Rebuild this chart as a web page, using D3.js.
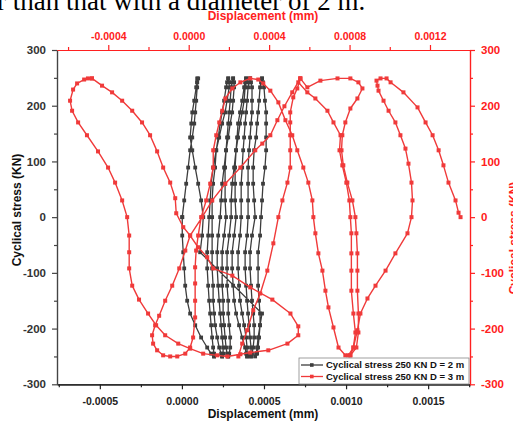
<!DOCTYPE html>
<html>
<head>
<meta charset="utf-8">
<script src="https://cdn.jsdelivr.net/npm/d3@7"></script>
<style>
  body { margin: 0; background: #fff; }
  svg { display: block; font-family: "Liberation Sans", Arial, sans-serif; }
</style>
</head>
<body>
<svg id="chart" width="513" height="424"></svg>
<script>
// ---- data ---------------------------------------------------------------
// Stress levels (KN) sampled along every D = 2 m loading branch, top to bottom
const stressLevels = [249, 242, 233, 209, 188, 168, 143, 120, 89, 60, 30, 0,
  -33, -63, -92, -123, -150, -173, -194, -216, -234, -245, -250];

// D = 2 m : displacement (mm) of each branch at the stress levels above
const d2Q  = [0.93e-4, 0.93e-4, 0.93e-4, 0.87e-4, 0.81e-4, 0.75e-4, 0.63e-4, 0.50e-4, 0.38e-4, 0.26e-4, 0.14e-4, 0.02e-4,
  0.02e-4, 0.08e-4, 0.14e-4, 0.20e-4, 0.32e-4, 0.50e-4, 0.81e-4, 1.17e-4, 1.54e-4, 1.78e-4, 1.96e-4];
const d2P  = [0.99e-4, 0.93e-4, 0.87e-4, 0.75e-4, 0.63e-4, 0.57e-4, 0.50e-4, 0.63e-4, 0.81e-4, 0.99e-4, 1.17e-4, 1.30e-4,
  1.23e-4, 1.11e-4];
const d2Tail = [[4.88e-4, -173], [4.76e-4, -194], [4.64e-4, -216], [4.58e-4, -234], [4.52e-4, -245]];
const d2Z1 = [4.88e-4, 4.94e-4, 5.00e-4, 5.06e-4, 5.13e-4, 5.13e-4, 5.13e-4, 5.13e-4, 5.06e-4, 4.94e-4, 4.88e-4, 4.82e-4,
  4.76e-4, 4.64e-4, 4.64e-4, 4.64e-4, 4.70e-4, 4.76e-4, 4.76e-4, 4.70e-4, 4.64e-4, 4.58e-4, 4.46e-4];
const d2Z2 = [4.88e-4, 4.82e-4, 4.76e-4, 4.70e-4, 4.64e-4, 4.58e-4, 4.52e-4, 4.40e-4, 4.34e-4, 4.34e-4, 4.40e-4, 4.46e-4,
  4.27e-4, 4.15e-4, 4.15e-4, 4.21e-4, 4.27e-4, 4.34e-4, 4.40e-4, 4.40e-4, 4.34e-4, 4.27e-4, 4.21e-4];
const d2Z3 = [4.15e-4, 4.21e-4, 4.27e-4, 4.27e-4, 4.27e-4, 4.21e-4, 4.15e-4, 4.09e-4, 4.03e-4, 4.03e-4, 4.03e-4, 4.03e-4,
  3.97e-4, 3.85e-4, 3.85e-4, 3.91e-4, 3.97e-4, 4.03e-4, 4.09e-4, 4.15e-4, 4.21e-4, 4.21e-4, 4.21e-4];
const d2Z4 = [4.15e-4, 4.09e-4, 4.03e-4, 3.97e-4, 3.91e-4, 3.85e-4, 3.79e-4, 3.73e-4, 3.67e-4, 3.61e-4, 3.61e-4, 3.61e-4,
  3.54e-4, 3.42e-4, 3.42e-4, 3.48e-4, 3.54e-4, 3.67e-4, 3.79e-4, 3.91e-4, 3.97e-4, 3.97e-4, 3.97e-4];
const d2Z5 = [3.91e-4, 3.91e-4, 3.85e-4, 3.79e-4, 3.67e-4, 3.54e-4, 3.42e-4, 3.30e-4, 3.24e-4, 3.24e-4, 3.24e-4, 3.30e-4,
  3.18e-4, 3.06e-4, 3.06e-4, 3.12e-4, 3.18e-4, 3.30e-4, 3.48e-4, 3.67e-4, 3.85e-4, 3.91e-4, 3.97e-4];
const d2Z6 = [3.91e-4, 3.85e-4, 3.79e-4, 3.67e-4, 3.54e-4, 3.42e-4, 3.36e-4, 3.30e-4, 3.18e-4, 3.06e-4, 3.00e-4, 3.00e-4,
  2.88e-4, 2.75e-4, 2.75e-4, 2.75e-4, 2.82e-4, 2.82e-4, 2.88e-4, 2.94e-4, 2.94e-4, 2.88e-4, 2.82e-4];
const d2Z7 = [3.12e-4, 3.06e-4, 3.00e-4, 2.94e-4, 2.88e-4, 2.82e-4, 2.75e-4, 2.69e-4, 2.63e-4, 2.63e-4, 2.63e-4, 2.69e-4,
  2.57e-4, 2.45e-4, 2.45e-4, 2.45e-4, 2.51e-4, 2.51e-4, 2.57e-4, 2.63e-4, 2.69e-4, 2.75e-4, 2.82e-4];
const d2Z8 = [3.12e-4, 3.18e-4, 3.18e-4, 3.12e-4, 3.06e-4, 2.94e-4, 2.82e-4, 2.69e-4, 2.57e-4, 2.45e-4, 2.39e-4, 2.33e-4,
  2.21e-4, 2.15e-4, 2.15e-4, 2.21e-4, 2.27e-4, 2.33e-4, 2.39e-4, 2.45e-4, 2.51e-4, 2.51e-4, 2.45e-4];
const d2Z9 = [2.82e-4, 2.75e-4, 2.69e-4, 2.57e-4, 2.45e-4, 2.33e-4, 2.21e-4, 2.09e-4, 2.02e-4, 1.90e-4, 1.84e-4, 1.84e-4,
  1.84e-4, 1.84e-4, 1.84e-4, 1.90e-4, 1.90e-4, 1.96e-4, 2.02e-4, 2.15e-4, 2.27e-4, 2.39e-4, 2.45e-4];
const d2Z10 = [2.82e-4, 2.88e-4, 2.88e-4, 2.75e-4, 2.63e-4, 2.45e-4, 2.27e-4, 2.09e-4, 1.90e-4, 1.78e-4, 1.72e-4, 1.66e-4,
  1.60e-4, 1.54e-4, 1.54e-4, 1.60e-4, 1.66e-4, 1.72e-4, 1.78e-4, 1.84e-4, 1.90e-4, 1.96e-4, 1.96e-4];

// D = 3 m : [displacement (mm), stress (KN)] loops and branches
const d3LoopA = [[-4.81e-4, 249], [-5.01e-4, 249], [-5.20e-4, 247], [-5.55e-4, 240], [-5.75e-4, 229], [-5.90e-4, 209],
  [-5.80e-4, 191], [-5.50e-4, 170], [-5.06e-4, 147], [-4.51e-4, 118], [-4.01e-4, 89], [-3.66e-4, 62], [-3.31e-4, 30],
  [-3.06e-4, 0], [-2.96e-4, -33], [-2.96e-4, -63], [-2.96e-4, -92], [-2.81e-4, -123], [-2.47e-4, -148], [-2.02e-4, -173],
  [-1.62e-4, -194], [-1.17e-4, -212], [-0.52e-4, -227], [0.07e-4, -236], [0.72e-4, -245], [1.42e-4, -248], [1.92e-4, -250],
  [2.57e-4, -246], [3.06e-4, -243], [3.96e-4, -239], [4.91e-4, -227], [5.45e-4, -212], [5.45e-4, -196], [5.06e-4, -173],
  [4.16e-4, -148], [3.06e-4, -126], [2.17e-4, -105], [1.22e-4, -92], [0.92e-4, -72], [0.47e-4, -54], [0.07e-4, -33],
  [-0.27e-4, -18], [-0.62e-4, 7], [-0.67e-4, 34], [-0.92e-4, 62], [-1.27e-4, 89], [-1.57e-4, 118], [-1.92e-4, 147],
  [-2.32e-4, 170], [-2.81e-4, 191], [-3.31e-4, 209], [-3.81e-4, 224], [-4.31e-4, 236], [-4.81e-4, 249]];
const d3LoopB = [[8.04e-4, -248], [8.19e-4, -234], [8.29e-4, -207], [8.19e-4, -173], [8.09e-4, -132], [8.09e-4, -96],
  [8.09e-4, -65], [8.09e-4, -29], [8.04e-4, 0], [7.99e-4, 30], [7.84e-4, 62], [7.64e-4, 93], [7.50e-4, 120], [7.55e-4, 147],
  [7.20e-4, 170], [6.90e-4, 191], [6.30e-4, 213], [5.90e-4, 224], [5.45e-4, 242], [5.55e-4, 249],
  [5.15e-4, 224], [4.76e-4, 199], [4.41e-4, 174], [4.06e-4, 147], [3.66e-4, 132], [3.31e-4, 120], [2.57e-4, 89],
  [1.82e-4, 60], [1.17e-4, 30], [0.67e-4, 0], [0.07e-4, -33], [-0.17e-4, -60], [-0.47e-4, -92], [-0.82e-4, -123],
  [-1.17e-4, -150], [-1.47e-4, -177], [-1.67e-4, -194], [-1.82e-4, -212], [-1.77e-4, -227], [-1.57e-4, -239],
  [-1.27e-4, -248], [-0.92e-4, -250], [-0.57e-4, -250], [-0.17e-4, -245], [0.07e-4, -234], [0.22e-4, -216],
  [0.32e-4, -180], [0.32e-4, -150], [0.32e-4, -119], [0.32e-4, -90], [0.37e-4, -60], [0.47e-4, -33], [0.62e-4, 0],
  [0.87e-4, 30], [1.07e-4, 60], [1.22e-4, 89], [1.22e-4, 120], [1.37e-4, 147], [1.52e-4, 170], [1.67e-4, 191],
  [1.82e-4, 213], [2.17e-4, 231], [2.57e-4, 242], [3.06e-4, 249], [3.46e-4, 247], [3.71e-4, 240], [4.06e-4, 227],
  [4.46e-4, 206], [4.81e-4, 174], [5.15e-4, 147], [5.40e-4, 120], [5.70e-4, 89], [5.95e-4, 62], [6.15e-4, 30],
  [6.20e-4, 0], [6.30e-4, -29], [6.45e-4, -65], [6.65e-4, -96], [6.80e-4, -132], [6.95e-4, -162], [7.20e-4, -198],
  [7.45e-4, -234], [7.79e-4, -248]];
const d3LoopC = [[5.55e-4, 249], [5.90e-4, 233], [6.55e-4, 245], [7.40e-4, 249], [8.04e-4, 249], [8.44e-4, 242],
  [8.64e-4, 231], [8.39e-4, 213], [8.04e-4, 195], [7.79e-4, 170], [7.64e-4, 147], [7.60e-4, 120], [7.69e-4, 93],
  [7.89e-4, 62], [8.14e-4, 30], [8.29e-4, 0], [8.34e-4, -29], [8.39e-4, -65], [8.39e-4, -96], [8.39e-4, -132],
  [8.44e-4, -173], [8.44e-4, -207], [8.34e-4, -234], [8.04e-4, -248]];
const d3LoopD = [[7.94e-4, -248], [8.19e-4, -234], [8.39e-4, -203], [8.54e-4, -173], [8.89e-4, -146], [9.29e-4, -123],
  [9.79e-4, -96], [10.28e-4, -65], [10.88e-4, -29], [11.08e-4, 0], [11.13e-4, 30], [11.08e-4, 62], [10.93e-4, 96],
  [10.78e-4, 123], [10.53e-4, 147], [10.28e-4, 170], [9.94e-4, 191], [9.69e-4, 209], [9.44e-4, 227], [9.39e-4, 236],
  [9.34e-4, 245], [9.54e-4, 249], [9.84e-4, 249], [10.04e-4, 242], [10.68e-4, 224], [11.38e-4, 197], [11.78e-4, 170],
  [12.13e-4, 147], [12.43e-4, 120], [12.67e-4, 93], [12.92e-4, 62], [13.27e-4, 30], [13.42e-4, 8], [13.52e-4, 0]];
const d3BranchE = [[5.55e-4, 249], [5.40e-4, 231], [5.20e-4, 215], [5.05e-4, 188], [5.05e-4, 170], [5.05e-4, 147],
  [5.05e-4, 120], [5.05e-4, 89], [4.91e-4, 62], [4.66e-4, 30], [4.46e-4, 0], [4.21e-4, -47], [3.91e-4, -96],
  [3.56e-4, -137], [3.21e-4, -167], [2.91e-4, -203], [2.66e-4, -227], [2.47e-4, -250]];

// axis ticks
const bottomTicks = [-0.0005, 0, 0.0005, 0.001, 0.0015];
const bottomMinor = [-0.00075, -0.00025, 0.00025, 0.00075, 0.00125, 0.00175];
const topTicks = [-0.0004, 0, 0.0004, 0.0008, 0.0012];
const topMinor = [-0.0006, -0.0002, 0.0002, 0.0006, 0.001];
const stressTicks = [-300, -200, -100, 0, 100, 200, 300];
const stressMinor = [-250, -150, -50, 50, 150, 250];

const seriesNames = ["Cyclical stress 250 KN D = 2 m", "Cyclical stress 250 KN D = 3 m"];

// ---- assemble the D = 2 m path (branches walked in loading order) -------
function walk(disp, from, to) {
  const out = [], step = from <= to ? 1 : -1;
  for (let i = from; i !== to + step; i += step) out.push([disp[i], stressLevels[i]]);
  return out;
}
const d2Path = [].concat(
  walk(d2Q, 11, 0), walk(d2P, 0, 13), d2Tail,
  walk(d2Z1, 22, 0), walk(d2Z2, 0, 22), walk(d2Z3, 22, 0), walk(d2Z4, 0, 22),
  walk(d2Z5, 22, 0), walk(d2Z6, 0, 22), walk(d2Z7, 22, 0), walk(d2Z8, 0, 22),
  walk(d2Z9, 22, 0), walk(d2Z10, 0, 22), walk(d2Q, 22, 11)
);
const d3Loops = [d3LoopA, d3BranchE, d3LoopB, d3LoopC, d3LoopD];

// ---- layout & scales ----------------------------------------------------
const L = 57, R = 470, T = 50, B = 384.3;
const BLACK = "#3d3d3d", RED = "#f03a3a", AXRED = "#ff2020";

const xBottom = d3.scaleLinear().domain([-0.000761, 0.001755]).range([L, R]);
const xTop = d3.scaleLinear().domain([-0.000655, 0.001399]).range([L, R]);
const y = d3.scaleLinear().domain([-300, 300]).range([B, T]);

const svg = d3.select("#chart");

// sentence from the surrounding text, cut by the top edge
svg.append("text").attr("x", -3).attr("y", 10)
  .style("font-family", '"Liberation Serif", "Times New Roman", serif')
  .style("font-size", "27px").attr("fill", "#000")
  .text("r than that with a diameter of 2 m.");

// ---- axes ---------------------------------------------------------------
function styleAxis(g, color, size) {
  g.select(".domain").attr("stroke", color).attr("stroke-width", 1.2);
  g.selectAll(".tick line").attr("stroke", color).attr("stroke-width", 1.2);
  g.selectAll(".tick text").attr("fill", color)
    .style("font-size", size).style("font-weight", "bold")
    .style("font-family", '"Liberation Sans", Arial, sans-serif');
}
const fmtX = d => d.toFixed(4);
const fmtY = d => String(d);

// bottom (D = 2 m displacement)
svg.append("g").attr("transform", `translate(0,${B})`)
  .call(d3.axisBottom(xBottom).tickValues(bottomMinor).tickSize(3).tickSizeOuter(0).tickFormat(""))
  .call(g => styleAxis(g, "#222", "10.5px"));
svg.append("g").attr("transform", `translate(0,${B})`)
  .call(d3.axisBottom(xBottom).tickValues(bottomTicks).tickSize(5).tickPadding(8).tickSizeOuter(0).tickFormat(fmtX))
  .call(g => styleAxis(g, "#222", "10.5px"));

// left (stress)
svg.append("g").attr("transform", `translate(${L},0)`)
  .call(d3.axisLeft(y).tickValues(stressMinor).tickSize(3).tickSizeOuter(0).tickFormat(""))
  .call(g => styleAxis(g, "#444", "11.5px"));
svg.append("g").attr("transform", `translate(${L},0)`)
  .call(d3.axisLeft(y).tickValues(stressTicks).tickSize(5).tickPadding(6).tickSizeOuter(0).tickFormat(fmtY))
  .call(g => styleAxis(g, "#444", "11.5px"))
  .call(g => g.selectAll(".tick text").attr("fill", "#333"));

// top (D = 3 m displacement)
svg.append("g").attr("transform", `translate(0,${T})`)
  .call(d3.axisTop(xTop).tickValues(topMinor).tickSize(3).tickSizeOuter(0).tickFormat(""))
  .call(g => styleAxis(g, AXRED, "10.5px"));
svg.append("g").attr("transform", `translate(0,${T})`)
  .call(d3.axisTop(xTop).tickValues(topTicks).tickSize(5).tickPadding(5.5).tickSizeOuter(0).tickFormat(fmtX))
  .call(g => styleAxis(g, AXRED, "10.5px"));

// right (stress, D = 3 m)
svg.append("g").attr("transform", `translate(${R},0)`)
  .call(d3.axisRight(y).tickValues(stressMinor).tickSize(3).tickSizeOuter(0).tickFormat(""))
  .call(g => styleAxis(g, AXRED, "11.5px"));
svg.append("g").attr("transform", `translate(${R},0)`)
  .call(d3.axisRight(y).tickValues(stressTicks).tickSize(5).tickPadding(6).tickSizeOuter(0).tickFormat(fmtY))
  .call(g => styleAxis(g, AXRED, "11.5px"));

// axis titles
const title = (x, yy, txt, color, rot) => svg.append("text")
  .attr("transform", `translate(${x},${yy})` + (rot ? ` rotate(${rot})` : ""))
  .attr("text-anchor", "middle").attr("fill", color)
  .style("font-size", "12px").style("font-weight", "bold").text(txt);
title(263, 418, "Displacement (mm)", "#111");
title(263, 19.5, "Displacement (mm)", AXRED);
title(21, 210, "Cyclical stress (KN)", "#111", -90);
title(518, 238, "Cyclical stress (KN)", AXRED, -90);

// ---- series -------------------------------------------------------------
const lineB = d3.line().x(d => xBottom(d[0])).y(d => y(d[1]));
const lineT = d3.line().x(d => xTop(d[0])).y(d => y(d[1]));

const gB = svg.append("g");
gB.append("path").datum(d2Path).attr("d", lineB)
  .attr("fill", "none").attr("stroke", BLACK).attr("stroke-width", 1.3).attr("stroke-linejoin", "round");
gB.selectAll("rect").data(d2Path).join("rect")
  .attr("x", d => xBottom(d[0]) - 1.9).attr("y", d => y(d[1]) - 1.9)
  .attr("width", 3.8).attr("height", 3.8).attr("fill", BLACK);

const gR = svg.append("g");
d3Loops.forEach(loop => {
  gR.append("path").datum(loop).attr("d", lineT)
    .attr("fill", "none").attr("stroke", RED).attr("stroke-width", 1.4).attr("stroke-linejoin", "round");
  gR.append("g").selectAll("rect").data(loop).join("rect")
    .attr("x", d => xTop(d[0]) - 2).attr("y", d => y(d[1]) - 2)
    .attr("width", 4).attr("height", 4).attr("fill", RED);
});

// ---- legend -------------------------------------------------------------
const lg = svg.append("g").attr("transform", "translate(299,358)");
lg.append("rect").attr("width", 170).attr("height", 26)
  .attr("fill", "#fff").attr("stroke", "#888").attr("stroke-width", 0.8);
[[BLACK, 7], [RED, 18.5]].forEach(([c, yy], i) => {
  lg.append("line").attr("x1", 2).attr("x2", 24).attr("y1", yy).attr("y2", yy)
    .attr("stroke", c).attr("stroke-width", 1.3);
  lg.append("rect").attr("x", 11).attr("y", yy - 1.8).attr("width", 3.6).attr("height", 3.6).attr("fill", c);
  lg.append("text").attr("x", 27).attr("y", yy + 3.4).attr("fill", "#111")
    .style("font-size", "9.5px").style("font-weight", "bold").text(seriesNames[i]);
});
</script>
</body>
</html>
